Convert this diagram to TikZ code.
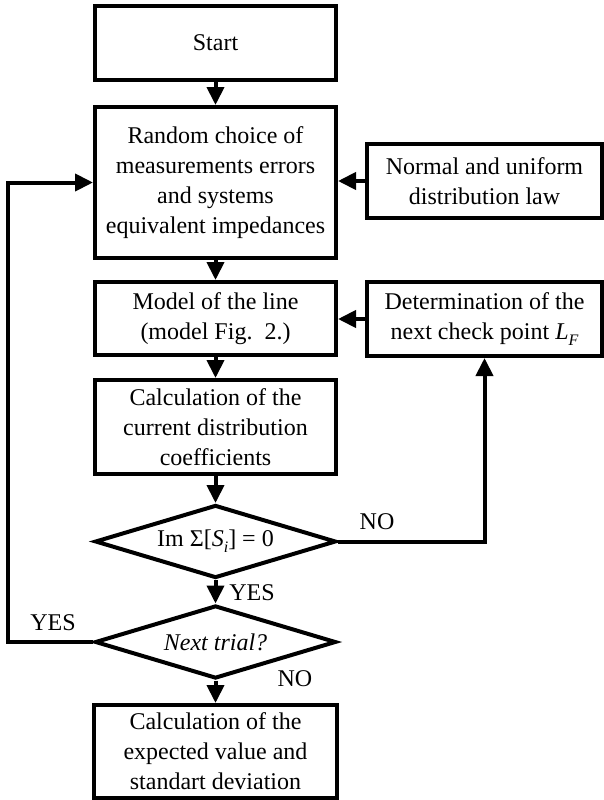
\documentclass[tikz,border=0pt]{standalone}
\usepackage{fontspec}
\setmainfont{Liberation Serif}
\usetikzlibrary{shapes.geometric,arrows.meta}
\newcommand{\lowsub}[1]{\raisebox{-6pt}{\fontsize{16}{16}\selectfont\itshape #1}}
\begin{document}
\begin{tikzpicture}[x=1pt,y=-1pt,
  every node/.style={font=\fontsize{24}{30}\selectfont},
  box/.style={draw, line width=4pt, align=center, inner sep=0pt},
  dec/.style={draw, line width=4pt, diamond, shape aspect=3.3, inner sep=0pt, minimum width=241pt, minimum height=73pt},
  conn/.style={line width=4pt, -{Triangle[length=18pt,width=17pt]}},
  lbl/.style={inner sep=0pt}]
\useasboundingbox (0,0) rectangle (603,800);
\node[box, minimum width=241pt, minimum height=74pt] (start) at (215.5,43) {Start};
\node[box, minimum width=241pt, minimum height=151pt] (rand) at (215.5,182.5) {Random choice of\\measurements errors\\and systems\\equivalent impedances};
\node[box, minimum width=235pt, minimum height=74pt] (norm) at (484.5,181) {Normal and uniform\\distribution law};
\node[box, minimum width=241pt, minimum height=73pt] (model) at (215.5,318.5) {Model of the line\\(model Fig.\ \ 2.)};
\node[box, minimum width=235pt, minimum height=74pt] (det) at (484.5,319) {Determination of the\\next check point \textit{L}\lowsub{F}};
\node[box, minimum width=241pt, minimum height=94pt] (calc) at (215.5,427) {Calculation of the\\current distribution\\coefficients};
\node[dec] (d1) at (215.5,541.5) {Im Σ[\textit{S}\lowsub{i}] = 0};
\node[dec] (d2) at (215.5,642) {\textit{Next trial?}};
\node[box, minimum width=243pt, minimum height=93pt] (fin) at (215.5,751.5) {Calculation of the\\expected value and\\standart deviation};
\coordinate (lp) at (8.3,642);
\draw[conn] (start.south) -- (rand.north);
\draw[conn] (norm.west) -- (rand.east |- norm.west);
\draw[conn] (rand.south) -- (model.north);
\draw[conn] (det.west) -- (model.east |- det.west);
\draw[conn] (model.south) -- (calc.north);
\draw[conn] (calc.south) -- (d1.north);
\draw[conn] (d1.east) -| (det.south);
\draw[conn] (d1.south) -- (d2.north);
\draw[conn] (d2.west) -- (lp) |- (rand.west);
\draw[conn] (d2.south) -- (fin.north);
\node[lbl] (no1) at (377,522) {NO};
\node[lbl] (yes1) at (252,593) {YES};
\node[lbl] (yes2) at (53,623) {YES};
\node[lbl] (no2) at (295,679) {NO};
\end{tikzpicture}
\end{document}
